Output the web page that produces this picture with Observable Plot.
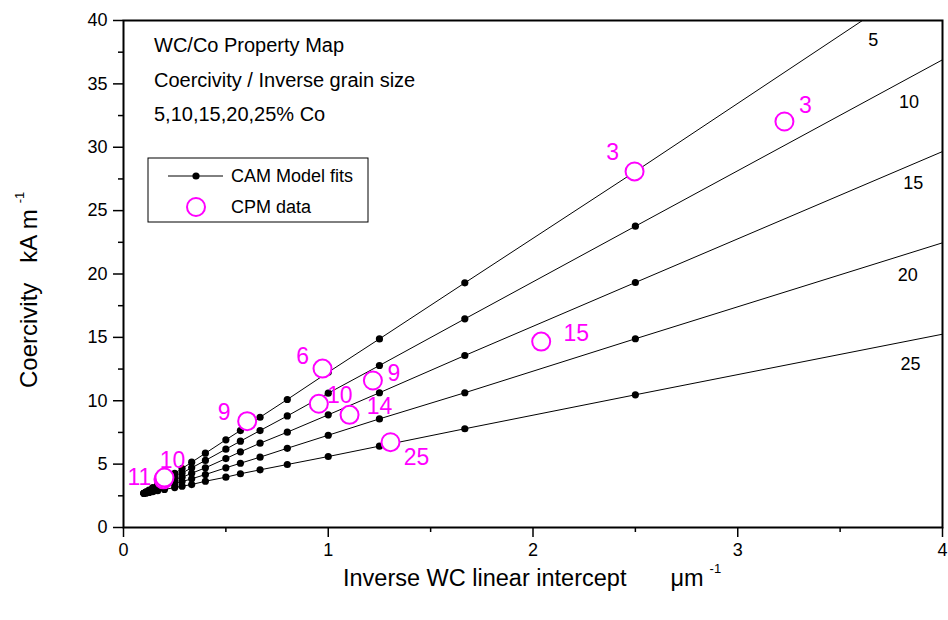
<!DOCTYPE html>
<html><head><meta charset="utf-8">
<script src="https://cdn.jsdelivr.net/npm/d3@7"></script>
<script src="https://cdn.jsdelivr.net/npm/@observablehq/plot@0.6"></script>
<style>
html,body{margin:0;padding:0;background:#fff;}
#chart svg{display:block;}
</style></head><body><div id="chart"></div>
<script>
// Inverse WC linear intercept (µm^-1) at which the CAM model points are drawn
const dotX = [0.1, 0.111, 0.125, 0.143, 0.167, 0.2, 0.25, 0.286, 0.333, 0.4, 0.5, 0.571, 0.667, 0.8, 1.0, 1.25, 1.667, 2.5];
// Coercivity (kA/m) of the CAM model fits, per Co content
const co5  = [2.70, 2.82, 2.96, 3.15, 3.40, 3.75, 4.28, 4.65, 5.15, 5.86, 6.92, 7.65, 8.70, 10.1, 12.25, 14.88, 19.3, 28.09];
const co10 = [2.70, 2.79, 2.92, 3.07, 3.28, 3.56, 3.99, 4.30, 4.71, 5.29, 6.18, 6.81, 7.65, 8.80, 10.6, 12.78, 16.46, 23.77];
const co15 = [2.70, 2.77, 2.87, 2.99, 3.16, 3.38, 3.72, 3.96, 4.28, 4.71, 5.44, 5.97, 6.65, 7.52, 8.89, 10.63, 13.57, 19.33];
const co20 = [2.70, 2.75, 2.82, 2.91, 3.03, 3.19, 3.44, 3.62, 3.84, 4.18, 4.71, 5.07, 5.55, 6.25, 7.28, 8.57, 10.63, 14.89];
const co25 = [2.70, 2.73, 2.77, 2.83, 2.90, 3.00, 3.15, 3.26, 3.39, 3.65, 3.97, 4.24, 4.55, 4.97, 5.60, 6.42, 7.79, 10.47];
const coContent = [5, 10, 15, 20, 25];
// fit lines continue to the right edge (x = 4)
const lineEndX = 4;
const lineEndY = [44.2, 36.9, 29.66, 22.46, 15.25];
// line label anchors (data coords)
const lineLabelX = [3.662, 3.836, 3.857, 3.83, 3.844];
const lineLabelY = [38.48, 33.56, 27.17, 19.88, 12.86];

// CPM data
const cpmX = [2.496, 3.228, 2.04, 0.972, 1.218, 0.954, 1.104, 1.304, 0.604, 0.195, 0.2];
const cpmY = [28.09, 32.03, 14.67, 12.54, 11.6, 9.76, 8.89, 6.73, 8.39, 3.8, 3.94];
const cpmLabel = ["3", "3", "15", "6", "9", "10", "14", "25", "9", "11", "10"];
// label offsets in px (layout only)
const cpmLabelOffset = [[-22,-19],[21,-16],[35,-8],[-20,-12],[21,-7],[21,-8],[30,-8],[26,15],[-23,-9],[-24,-2],[8,-17]];

const xTicks = [0, 1, 2, 3, 4];
const xMinor = [0.5, 1.5, 2.5, 3.5];
const yTicks = [0, 5, 10, 15, 20, 25, 30, 35, 40];
const yMinor = [2.5, 7.5, 12.5, 17.5, 22.5, 27.5, 32.5, 37.5];

const allSeries = [co5, co10, co15, co20, co25];
const lineData = [];
const dotData = [];
allSeries.forEach((ys, i) => {
  ys.forEach((v, j) => {
    lineData.push({co: coContent[i], x: dotX[j], y: v});
    dotData.push({co: coContent[i], x: dotX[j], y: v});
  });
  lineData.push({co: coContent[i], x: lineEndX, y: lineEndY[i]});
});
const lineLabels = coContent.map((c, i) => ({x: lineLabelX[i], y: lineLabelY[i], t: String(c)}));
const cpm = cpmX.map((x, i) => ({x, y: cpmY[i], t: cpmLabel[i]}));

const MAG = "#ff00ff";
const FONT = "'Liberation Sans', Arial, Helvetica, sans-serif";

const cpmLabelMarks = cpm.map((d, i) => Plot.text([d], {
  x: "x", y: "y", text: "t", dx: cpmLabelOffset[i][0], dy: cpmLabelOffset[i][1],
  fill: MAG, fontSize: 23, textAnchor: "middle"
}));

const plot = Plot.plot({
  width: 948, height: 620,
  marginLeft: 123, marginRight: 6, marginTop: 20, marginBottom: 93,
  style: {fontFamily: FONT, fontSize: "18px", color: "#000", background: "#fff"},
  x: {domain: [0, 4]},
  y: {domain: [0, 40]},
  marks: [
    Plot.line(lineData, {x: "x", y: "y", z: "co", stroke: "#000", strokeWidth: 1, clip: true}),
    Plot.dot(dotData, {x: "x", y: "y", r: 3.6, fill: "#000", stroke: "none"}),
    Plot.dot(cpm, {x: "x", y: "y", r: 9, stroke: MAG, strokeWidth: 2, fill: "#fff"}),
    ...cpmLabelMarks,
    Plot.text(lineLabels, {x: "x", y: "y", text: "t", fill: "#000", fontSize: 18, textAnchor: "middle"}),
    Plot.axisX({ticks: xTicks, tickSize: 10, tickPadding: 6, label: null, tickFormat: d => String(d), strokeWidth: 1.5, fontSize: 18}),
    Plot.axisX({ticks: xMinor, tickSize: 5, text: null, label: null, strokeWidth: 1.5}),
    Plot.axisY({ticks: yTicks, tickSize: 10, tickPadding: 6, label: null, tickFormat: d => String(d), strokeWidth: 1.5, fontSize: 18}),
    Plot.axisY({ticks: yMinor, tickSize: 5, text: null, label: null, strokeWidth: 1.5}),
    Plot.frame({stroke: "#000", strokeWidth: 2})
  ]
});

document.getElementById("chart").appendChild(plot);

const svg = d3.select(plot);
const g = svg.append("g").attr("font-family", FONT).attr("fill", "#000").attr("text-anchor", "start");

// title block
const titleLines = ["WC/Co Property Map", "Coercivity / Inverse grain size", "5,10,15,20,25% Co"];
const titleY = [45, 80, 114];
titleLines.forEach((t, i) => {
  g.append("text").attr("x", 154).attr("y", titleY[i]).attr("dy", "0.35em")
    .attr("text-anchor", "start").attr("font-size", 20).text(t);
});

// legend
g.append("rect").attr("x", 148).attr("y", 158).attr("width", 220).attr("height", 64)
  .attr("fill", "#fff").attr("stroke", "#000").attr("stroke-width", 1);
g.append("line").attr("x1", 168).attr("x2", 223).attr("y1", 176).attr("y2", 176)
  .attr("stroke", "#000").attr("stroke-width", 1);
g.append("circle").attr("cx", 196).attr("cy", 176).attr("r", 3.6).attr("fill", "#000");
g.append("text").attr("x", 231).attr("y", 176).attr("dy", "0.35em").attr("text-anchor", "start")
  .attr("font-size", 18).text("CAM Model fits");
g.append("circle").attr("cx", 196).attr("cy", 207).attr("r", 9).attr("fill", "none")
  .attr("stroke", MAG).attr("stroke-width", 2);
g.append("text").attr("x", 231).attr("y", 207).attr("dy", "0.35em").attr("text-anchor", "start")
  .attr("font-size", 18).text("CPM data");

// x-axis title
const xt = g.append("text").attr("x", 343).attr("y", 586).attr("text-anchor", "start").attr("font-size", 23.5);
xt.append("tspan").text("Inverse WC linear intercept");
xt.append("tspan").attr("dx", 44).text("μm");
xt.append("tspan").attr("dx", 6).attr("dy", -13).attr("font-size", 13).text("-1");

// y-axis title
const yt = g.append("text").attr("transform", "translate(37,388) rotate(-90)").attr("text-anchor", "start").attr("font-size", 24);
yt.append("tspan").text("Coercivity");
yt.append("tspan").attr("dx", 20).text("kA m");
yt.append("tspan").attr("dx", 6).attr("dy", -13).attr("font-size", 13).text("-1");
</script>
</body></html>
